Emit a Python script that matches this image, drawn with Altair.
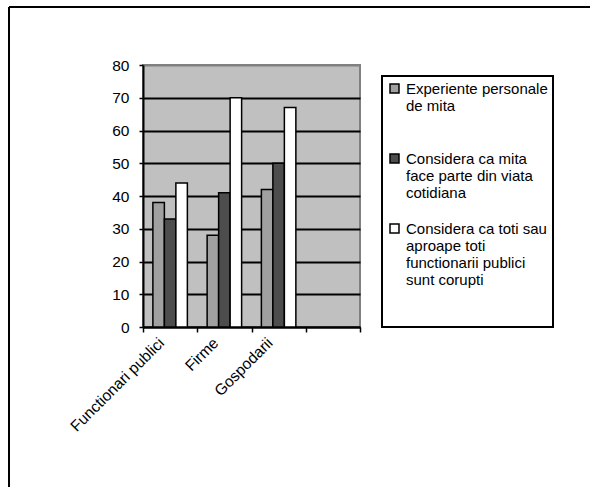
import json
import altair as alt
import pandas as pd

FONT = "Liberation Sans"
AXIS_FONT_SIZE = 15.5
LEGEND_FONT_SIZE = 15

# Survey groups (the fourth slot of the category axis is left empty)
categories = ["Functionari publici", "Firme", "Gospodarii", " "]
groups = ["Functionari publici", "Firme", "Gospodarii"]

series = [
    "Experiente personale de mita",
    "Considera ca mita face parte din viata cotidiana",
    "Considera ca toti sau aproape toti functionarii publici sunt corupti",
]
# Wrapped legend text; blank lines keep the three entries evenly spaced
legend_lines = [
    ["Experiente personale", "de mita", "", ""],
    ["Considera ca mita", "face parte din viata", "cotidiana", ""],
    ["Considera ca toti sau", "aproape toti", "functionarii publici", "sunt corupti", "", ""],
]

experiente = [38, 28, 42]
mita_cotidiana = [33, 41, 50]
toti_corupti = [44, 70, 67]

colors = ["#a0a0a0", "#4d4d4d", "#ffffff"]

rows = []
for s, vals in zip(series, [experiente, mita_cotidiana, toti_corupti]):
    for g, v in zip(groups, vals):
        rows.append({"categorie": g, "serie": s, "valoare": v})
df = pd.DataFrame(rows)

label_expr = json.dumps(dict(zip(series, legend_lines))) + "[datum.label]"

bars = alt.Chart(df).mark_bar(stroke="black", strokeWidth=1.5).encode(
    x=alt.X(
        "categorie:N",
        sort=categories,
        scale=alt.Scale(domain=categories, paddingInner=0, paddingOuter=0),
        axis=alt.Axis(
            title=None, labelAngle=-45, labelAlign="right", labelBaseline="middle",
            tickBand="extent", tickSize=5, tickColor="black", tickWidth=1.5,
            domainColor="black", domainWidth=2, labelPadding=8, labelOffset=-9,
            labelFont=FONT, labelFontSize=AXIS_FONT_SIZE, labelColor="black", grid=False,
        ),
    ),
    xOffset=alt.XOffset(
        "serie:N", sort=series,
        scale=alt.Scale(domain=series, paddingInner=0, paddingOuter=0.86),
    ),
    y=alt.Y(
        "valoare:Q",
        scale=alt.Scale(domain=[0, 80], nice=False),
        axis=alt.Axis(
            title=None, values=list(range(0, 81, 10)), tickSize=4, tickColor="black",
            tickWidth=1.5, domainColor="black", domainWidth=2, labelPadding=10,
            labelFont=FONT, labelFontSize=AXIS_FONT_SIZE, labelColor="black",
            grid=True, gridWidth=2,
            gridColor={"condition": {"test": "datum.value === 80", "value": "#808080"},
                       "value": "black"},
        ),
    ),
    color=alt.Color(
        "serie:N",
        scale=alt.Scale(domain=series, range=colors),
        legend=alt.Legend(
            title=None, orient="none", legendX=239, legendY=11, direction="vertical",
            fillColor="white", strokeColor="black", padding=5, rowPadding=3,
            symbolType="square", symbolSize=81, symbolStrokeColor="black",
            symbolStrokeWidth=1.5, symbolOpacity=1, labelOffset=4,
            labelFont=FONT, labelFontSize=LEGEND_FONT_SIZE, labelColor="black",
            labelLimit=300, labelBaseline="middle", labelExpr=label_expr,
        ),
    ),
)

# Outer frame of the figure (top and left edges)
frame_top = alt.Chart().mark_rule(color="black", strokeWidth=2).encode(
    x=alt.value(-134), x2=alt.value(447), y=alt.value(-58)
)
frame_left = alt.Chart().mark_rule(color="black", strokeWidth=2).encode(
    x=alt.value(-134), y=alt.value(-58), y2=alt.value(422)
)

chart = alt.layer(bars, frame_top, frame_left).properties(
    width=217, height=262,
    padding={"left": 143, "top": 65, "right": 230, "bottom": 160},
    autosize="none",
).configure_view(
    fill="#c0c0c0", stroke="#808080", strokeWidth=2
).configure_legend(
    strokeWidth=2
)

chart.save("out.html", embed_options={"renderer": "svg", "actions": False})
